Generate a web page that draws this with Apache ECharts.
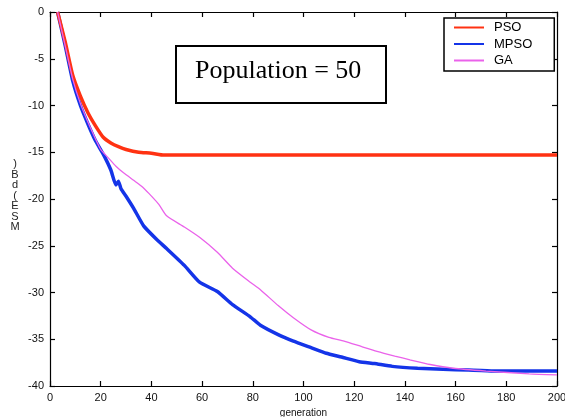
<!DOCTYPE html>
<html>
<head>
<meta charset="utf-8">
<script src="https://cdn.jsdelivr.net/npm/echarts@6.0.0/dist/echarts.min.js"></script>
<style>
  html, body { margin: 0; padding: 0; background: #fff; }
  #chart { width: 565px; height: 417px; }
</style>
</head>
<body>
<div id="chart"></div>
<script>
// axis ticks
const xTicks = [0, 20, 40, 60, 80, 100, 120, 140, 160, 180, 200];
const yTicks = [0, -5, -10, -15, -20, -25, -30, -35, -40];

// PSO (red)
const genPSO = [3, 6, 9, 12, 15, 18, 21, 24, 27, 30, 35, 40, 45, 60, 100, 150, 200];
const msePSO = [0, -3.2, -6.8, -9.0, -10.8, -12.2, -13.4, -14.0, -14.4, -14.7, -15.0, -15.1, -15.3, -15.3, -15.3, -15.3, -15.3];

// MPSO (blue)
const genMPSO = [3, 6, 9, 12, 15, 18, 21, 24, 26, 27, 28, 30, 33, 37, 42, 46, 53, 59, 66, 72, 79, 83, 90, 96, 103, 109, 115, 122, 128, 135, 145, 155, 165, 175, 185, 200];
const mseMPSO = [0, -3.6, -7.4, -10.0, -12.0, -13.8, -15.2, -16.9, -18.5, -18.1, -18.9, -19.7, -21.0, -22.9, -24.3, -25.3, -27.1, -28.9, -29.9, -31.3, -32.6, -33.5, -34.5, -35.2, -35.9, -36.5, -36.9, -37.4, -37.6, -37.9, -38.1, -38.2, -38.3, -38.4, -38.4, -38.4];

// GA (magenta)
const genGA = [3, 6, 9, 12, 15, 18, 20, 23, 26, 29, 33, 36, 39, 43, 46, 53, 59, 66, 72, 79, 83, 90, 96, 103, 110, 116, 123, 129, 136, 142, 150, 159, 172, 189, 200];
const mseGA = [0, -3.6, -7.2, -9.8, -11.8, -13.6, -14.7, -15.6, -16.5, -17.2, -18.0, -18.6, -19.4, -20.6, -21.8, -23.0, -24.1, -25.7, -27.4, -28.9, -29.7, -31.4, -32.7, -34.0, -34.8, -35.2, -35.8, -36.3, -36.8, -37.2, -37.7, -38.1, -38.4, -38.7, -38.8];

const seriesNames = ["PSO", "MPSO", "GA"];

const pairs = (xs, ys) => xs.map((x, i) => [x, ys[i]]);

const chart = echarts.init(document.getElementById("chart"));

const axisCommon = {
  type: "value",
  axisLine: { show: true, onZero: false, lineStyle: { color: "#000", width: 1.2 } },
  axisTick: { show: true, inside: true, length: 5, lineStyle: { color: "#000", width: 1.2 } },
  splitLine: { show: false },
};

const options = {
  animation: false,
  backgroundColor: "#fff",
  grid: { left: 50, right: 8, top: 12, bottom: 31, containLabel: false, outerBoundsMode: "none" },
  xAxis: [
    {
      ...axisCommon,
      position: "bottom",
      min: xTicks[0],
      max: xTicks[xTicks.length - 1],
      interval: 20,
      name: "generation",
      nameLocation: "middle",
      nameGap: 20,
      nameTextStyle: { fontSize: 10, color: "#111", fontFamily: "Liberation Sans" },
      axisLabel: { color: "#111", fontSize: 11, margin: 6, fontFamily: "Liberation Sans" },
    },
    {
      ...axisCommon,
      position: "top",
      min: 0,
      max: 200,
      interval: 20,
      axisLabel: { show: false },
    },
  ],
  yAxis: [
    {
      ...axisCommon,
      position: "left",
      min: yTicks[yTicks.length - 1],
      max: yTicks[0],
      interval: 5,
      axisLabel: { color: "#111", fontSize: 11, margin: 6, fontFamily: "Liberation Sans" },
    },
    {
      ...axisCommon,
      position: "right",
      min: -40,
      max: 0,
      interval: 5,
      axisLabel: { show: false },
    },
  ],
  legend: {
    data: seriesNames,
    orient: "vertical",
    left: 444,
    top: 18,
    itemWidth: 30,
    itemHeight: 14,
    itemGap: 3.5,
    itemStyle: { opacity: 0 },
    borderColor: "#000",
    borderWidth: 1.5,
    backgroundColor: "#fff",
    padding: [3, 22, 4, 9],
    textStyle: { fontSize: 13, color: "#000", fontFamily: "Liberation Sans", padding: [0, 0, 0, 5] },
    z: 10,
  },
  graphic: [
    {
      type: "rect",
      left: 175,
      top: 45,
      shape: { width: 210, height: 57 },
      style: { fill: "#fff", stroke: "#000", lineWidth: 2 },
      z: 10,
    },
    {
      type: "text",
      left: 195,
      top: 58,
      style: { text: "Population = 50", fontSize: 26, fontFamily: "Liberation Serif", fill: "#000" },
      z: 11,
    },
    {
      // MATLAB-style stacked y label, read bottom to top: MSE(dB)
      type: "text",
      x: 15,
      y: 159,
      style: {
        text: ")\nB\nd\n(\nE\nS\nM",
        fontSize: 11,
        lineHeight: 10.5,
        fontFamily: "Liberation Sans",
        fill: "#222",
        align: "center",
      },
    },
  ],
  series: [
    {
      name: "PSO",
      type: "line",
      data: pairs(genPSO, msePSO),
      symbol: "none",
      smooth: 0.2,
      color: "#ff3212",
      lineStyle: { width: 3.5 },
      z: 3,
    },
    {
      name: "MPSO",
      type: "line",
      data: pairs(genMPSO, mseMPSO),
      symbol: "none",
      smooth: 0.15,
      color: "#1434e8",
      lineStyle: { width: 3.5 },
      z: 2,
    },
    {
      name: "GA",
      type: "line",
      data: pairs(genGA, mseGA),
      symbol: "none",
      smooth: 0.2,
      color: "#ea62ea",
      lineStyle: { width: 1.3 },
      z: 4,
    },
  ],
};

chart.setOption(options);
</script>
</body>
</html>
